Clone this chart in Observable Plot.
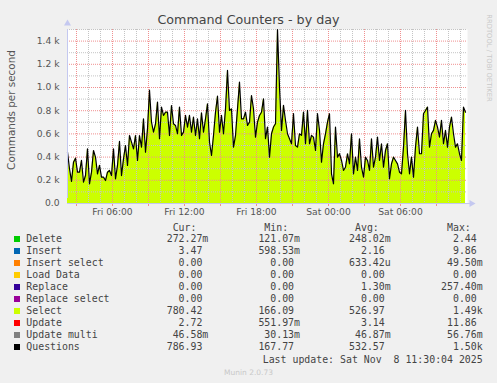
<!DOCTYPE html>
<html><head><meta charset="utf-8">
<script src="https://cdn.jsdelivr.net/npm/d3@7"></script>
<script src="https://cdn.jsdelivr.net/npm/@observablehq/plot@0.6"></script>
<style>
html,body{margin:0;padding:0;background:#F0F0F0;}
#wrap{position:relative;width:497px;height:383px;overflow:hidden;background:#F0F0F0;font-family:"DejaVu Sans",sans-serif;}
.abs{position:absolute;white-space:pre;}
.mono{font-family:"DejaVu Sans Mono",monospace;font-size:9.9px;color:#444;line-height:12px;height:12px;}
</style></head><body><div id="wrap"></div>
<script>
// ---- data ----
const titleText = "Command Counters - by day";
const yLabelText = "Commands per second";
const startTime = "2025-11-07T02:15:00Z";
const endTime = "2025-11-08T11:35:00Z";
const stepMinutes = 10;
// Questions per second, one value every 10 minutes (Select area follows the same outline)
const questions = [
443,299,190,356,391,270,270,371,184,241,471,170,270,457,400,256,328,227,227,198,
270,285,241,471,213,328,535,241,385,500,328,586,529,471,586,371,586,486,730,443,
644,977,701,615,687,874,558,831,759,787,
787,586,845,687,673,601,831,586,615,759,658,759,615,744,586,730,558,782,615,730,
859,529,414,586,787,925,615,759,601,816,1147,802,816,486,586,816,1046,730,730,787,
673,701,931,816,572,701,759,787,902,558,
659,400,601,659,687,1500,1004,630,846,716,601,558,515,774,500,486,601,587,788,515,
802,515,587,572,457,774,630,357,515,601,702,774,256,170,659,400,429,371,285,313,
429,342,601,256,400,285,558,313,227,400,371,285,558,313,400,572,371,515,313,457,
515,213,342,400,371,342,270,256,486,802,429,256,400,227,486,659,429,429,774,802,
831,486,601,630,716,659,572,716,515,630,486,659,745,601,486,515,429,371,831,787
];
const yTickValues = [0,200,400,600,800,1000,1200,1400];
const yTickLabels = ["0.0","0.2 k","0.4 k","0.6 k","0.8 k","1.0 k","1.2 k","1.4 k"];
const xTickTimes = ["2025-11-07T06:00:00Z","2025-11-07T12:00:00Z","2025-11-07T18:00:00Z","2025-11-08T00:00:00Z","2025-11-08T06:00:00Z"];
const xTickLabels = ["Fri 06:00","Fri 12:00","Fri 18:00","Sat 00:00","Sat 06:00"];

const legendNames = ["Delete","Insert","Insert select","Load Data","Replace","Replace select","Select","Update","Update multi","Questions"];
const legendColors = ["#00CC00","#0066B3","#FF8000","#FFCC00","#330099","#990099","#CCFF00","#FF0000","#808080","#000000"];
const curValues = ["272.27m","3.47 ","0.00 ","0.00 ","0.00 ","0.00 ","780.42 ","2.72 ","46.58m","786.93 "];
const minValues = ["121.07m","598.53m","0.00 ","0.00 ","0.00 ","0.00 ","166.09 ","551.97m","30.13m","167.77 "];
const avgValues = ["248.02m","2.16 ","633.42u","0.00 ","1.30m","0.00 ","526.97 ","3.14 ","46.87m","532.57 "];
const maxValues = ["2.44 ","9.86 ","49.50m","0.00 ","257.40m","0.00 ","1.49k","11.86 ","56.76m","1.50k"];
const columnHeaders = ["Cur:  ","Min:  ","Avg:  ","Max:  "];
const lastUpdateText = "Last update: Sat Nov  8 11:30:04 2025";
const footerText = "Munin 2.0.73";
const sideText = "RRDTOOL / TOBI OETIKER";

// ---- build ----
const wrap = document.getElementById("wrap");
const start = new Date(startTime), end = new Date(endTime);
const data = questions.map((v, i) => ({t: new Date(start.getTime() + i * stepMinutes * 60000), v}));
const xTicks = xTickTimes.map(s => new Date(s));
const hours = d3.utcHour.range(start, end);
const minorHours = hours.filter(d => d.getUTCHours() % 3 !== 0);
const majorHours = hours.filter(d => d.getUTCHours() % 3 === 0);
const minorY = d3.range(100, 1501, 200);
const majorY = yTickValues.filter(v => v > 0);
const gridGray = "#c4c4c4", gridRed = "#f09090", axisColor = "#c4c8f0";

const chart = Plot.plot({
  width: 497, height: 222,
  marginLeft: 67, marginRight: 30, marginTop: 29, marginBottom: 19,
  style: {background: "transparent", fontFamily: "DejaVu Sans", fontSize: "9.2px", color: "#555", overflow: "visible"},
  x: {type: "utc", domain: [start, end], label: null},
  y: {domain: [0, 1500], label: null},
  marks: [
    Plot.frame({fill: "white", stroke: null}),
    Plot.areaY(data, {x: "t", y: "v", fill: "#CCFF00"}),
    Plot.ruleX(minorHours, {stroke: gridGray, strokeDasharray: "1,1"}),
    Plot.ruleY(minorY, {stroke: gridGray, strokeDasharray: "1,1"}),
    Plot.ruleX(majorHours, {stroke: gridRed, strokeDasharray: "1,1"}),
    Plot.ruleY(majorY, {stroke: gridRed, strokeDasharray: "1,1"}),
    Plot.lineY(data, {x: "t", y: "v", stroke: "#000", strokeWidth: 1.2}),
    Plot.axisX({ticks: majorHours, tickSize: 3, stroke: gridRed, tickFormat: () => "", label: null}),
    Plot.axisX({ticks: xTicks, tickSize: 0, tickPadding: 5, fill: "#555", label: null,
      tickFormat: d => xTickLabels[xTicks.findIndex(t => +t === +d)]}),
    Plot.axisY({ticks: yTickValues, tickSize: 0, tickPadding: 8, fill: "#555", label: null,
      tickFormat: d => yTickLabels[yTickValues.indexOf(d)]}),
    Plot.ruleY([0], {x1: start, x2: end, stroke: axisColor, insetRight: -3}),
    Plot.dot([end], {x: d => d, y: 0, symbol: "triangle", r: 2.6, fill: axisColor, stroke: null, rotate: 90, dx: 4}),
    Plot.ruleX([start], {y1: 0, y2: 1500, stroke: axisColor, insetTop: -5}),
    Plot.dot([start], {x: d => d, y: 1500, symbol: "triangle", r: 2.6, fill: axisColor, stroke: null, dy: -6})
  ]
});
chart.style.position = "absolute"; chart.style.left = "0px"; chart.style.top = "0px";
wrap.appendChild(chart);

function addText(txt, css, cls) {
  const d = document.createElement("div");
  d.className = "abs" + (cls ? " " + cls : "");
  d.textContent = txt;
  Object.assign(d.style, css);
  wrap.appendChild(d);
  return d;
}
addText(titleText, {left: "0px", width: "497px", textAlign: "center", top: "12px", fontSize: "12.7px", color: "#444"});
addText(yLabelText, {left: "11px", top: "110px", fontSize: "10.4px", color: "#555", transform: "translate(-50%,-50%) rotate(-90deg)"});
addText(sideText, {left: "489px", top: "58px", fontSize: "6.8px", color: "#c8c8c8", transform: "translate(-50%,-50%) rotate(90deg)"});

const colEdges = [208.3, 300, 390.7, 482.7];
const rowTop = c => (c - 6) + "px";
columnHeaders.forEach((h, j) => addText(h, {right: (497 - colEdges[j]) + "px", top: rowTop(228.3)}, "mono"));
const cols = [curValues, minValues, avgValues, maxValues];
legendNames.forEach((name, i) => {
  const cy = 239.3 + i * 12;
  const sw = document.createElement("div");
  Object.assign(sw.style, {position: "absolute", left: "14px", top: (cy - 3) + "px", width: "6px", height: "6px", background: legendColors[i]});
  wrap.appendChild(sw);
  addText(name, {left: "26.3px", top: rowTop(cy)}, "mono");
  cols.forEach((arr, j) => addText(arr[i], {right: (497 - colEdges[j]) + "px", top: rowTop(cy)}, "mono"));
});
addText(lastUpdateText, {right: (497 - 482.7) + "px", top: rowTop(359.7)}, "mono");
addText(footerText, {left: "0px", width: "497px", textAlign: "center", top: "367.5px", fontSize: "7.5px", color: "#c8c8c8"});
</script></body></html>
